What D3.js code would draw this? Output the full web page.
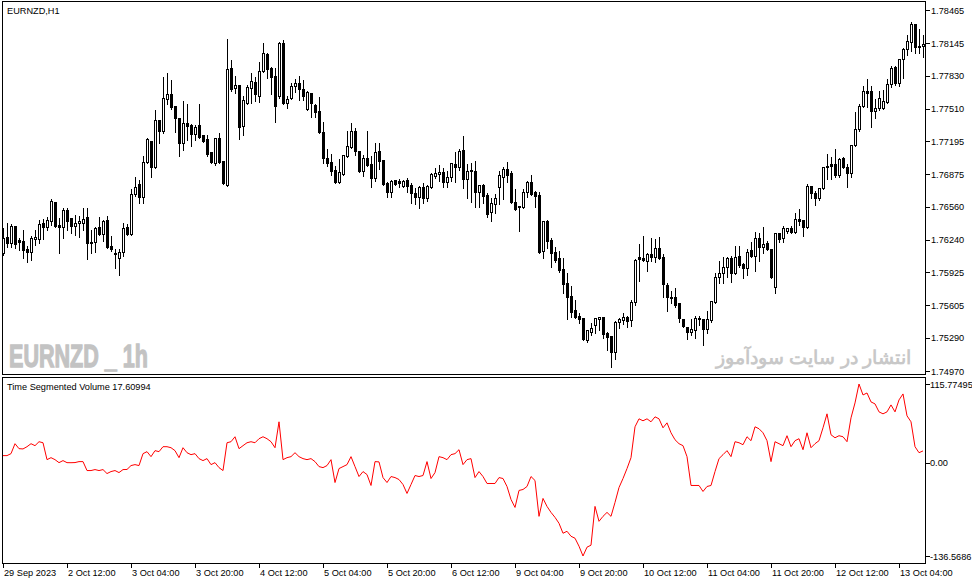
<!DOCTYPE html>
<html>
<head>
<meta charset="utf-8">
<script src="https://cdn.jsdelivr.net/npm/d3@7/dist/d3.min.js"></script>
<style>
html,body{margin:0;padding:0;background:#fff;}
svg{display:block;}
text{font-family:"Liberation Sans",Arial,sans-serif;}
</style>
</head>
<body>
<svg id="chart" width="972" height="584"></svg>
<script>
// ---- data (EURNZD H1, 29 Sep 2023 20:00 -> 13 Oct 2023) ----
const open = [1.76112,1.76267,1.76209,1.76374,1.76238,1.76228,1.76151,1.76122,1.76248,1.76248,
1.76403,1.76364,1.76422,1.76606,1.76384,1.76364,1.76529,1.76452,1.76374,1.76403,
1.76403,1.76461,1.76219,1.76219,1.76364,1.76296,1.76432,1.76180,1.76112,1.76064,
1.76122,1.76364,1.76296,1.76683,1.76780,1.76654,1.76994,1.77196,1.76945,1.77400,
1.77293,1.77603,1.77651,1.77535,1.77419,1.77177,1.77371,1.77352,1.77264,1.77352,
1.77255,1.77216,1.77090,1.76984,1.77226,1.77003,1.76771,1.77903,1.77710,1.77739,
1.77342,1.77564,1.77710,1.77768,1.77632,1.77874,1.78038,1.77903,1.77826,1.77632,
1.78145,1.77564,1.77613,1.77729,1.77758,1.77700,1.77506,1.77661,1.77545,1.77487,
1.77284,1.77032,1.76994,1.76916,1.76800,1.76877,1.77051,1.77138,1.77293,1.77099,
1.76906,1.77032,1.76974,1.76838,1.77099,1.77013,1.76790,1.76703,1.76819,1.76809,
1.76761,1.76819,1.76771,1.76693,1.76654,1.76751,1.76645,1.76751,1.76858,1.76877,
1.76897,1.76800,1.76848,1.76974,1.76945,1.77109,1.76829,1.76906,1.76906,1.76703,
1.76771,1.76674,1.76510,1.76586,1.76751,1.76848,1.76926,1.76887,1.76606,1.76557,
1.76557,1.76703,1.76800,1.76703,1.76674,1.76131,1.76422,1.76238,1.76122,1.76064,
1.75958,1.75822,1.75696,1.75561,1.75503,1.75484,1.75270,1.75348,1.75416,1.75474,
1.75493,1.75338,1.75309,1.75154,1.75445,1.75464,1.75493,1.75464,1.75638,1.76074,
1.76064,1.76035,1.76103,1.76074,1.76161,1.76074,1.75803,1.75686,1.75686,1.75628,
1.75474,1.75396,1.75348,1.75367,1.75484,1.75474,1.75377,1.75464,1.75638,1.75880,
1.75919,1.75977,1.76064,1.75919,1.76083,1.76006,1.75967,1.76141,1.76083,1.76258,
1.76170,1.76209,1.76151,1.75783,1.76306,1.76258,1.76326,1.76355,1.76316,1.76442,
1.76432,1.76364,1.76761,1.76693,1.76645,1.76741,1.76955,1.76974,1.76974,1.76868,
1.77032,1.76945,1.76887,1.77158,1.77313,1.77535,1.77680,1.77680,1.77487,1.77516,
1.77516,1.77574,1.77748,1.77913,1.77758,1.77990,1.78087,1.78155,1.78329,1.78116,
1.78116];
const high = [1.76364,1.76413,1.76403,1.76384,1.76267,1.76345,1.76190,1.76287,1.76345,1.76442,
1.76452,1.76471,1.76645,1.76615,1.76461,1.76557,1.76557,1.76461,1.76490,1.76481,
1.76557,1.76557,1.76345,1.76374,1.76471,1.76442,1.76481,1.76287,1.76161,1.76161,
1.76413,1.76403,1.76741,1.76858,1.76829,1.77061,1.77235,1.77206,1.77506,1.77410,
1.77826,1.77865,1.77797,1.77545,1.77429,1.77593,1.77564,1.77371,1.77361,1.77564,
1.77264,1.77264,1.77099,1.77235,1.77284,1.77013,1.78193,1.77990,1.77836,1.77748,
1.77642,1.77748,1.77865,1.77826,1.77971,1.78155,1.78058,1.77923,1.77913,1.78164,
1.78184,1.77642,1.77768,1.77807,1.77836,1.77797,1.77690,1.77671,1.77564,1.77632,
1.77390,1.77129,1.77080,1.76964,1.77032,1.77070,1.77303,1.77381,1.77332,1.77109,
1.77070,1.77303,1.77061,1.77187,1.77187,1.77022,1.76809,1.76829,1.76829,1.76838,
1.76829,1.76848,1.76800,1.76751,1.76771,1.76800,1.76780,1.76897,1.76945,1.76974,
1.76945,1.76916,1.76994,1.77099,1.77129,1.77255,1.76984,1.76994,1.77013,1.76780,
1.76790,1.76703,1.76654,1.76693,1.76916,1.76955,1.77003,1.76916,1.76741,1.76577,
1.76741,1.76819,1.76877,1.76722,1.76712,1.76432,1.76442,1.76267,1.76180,1.76141,
1.76074,1.75929,1.75803,1.75667,1.75542,1.75493,1.75377,1.75445,1.75493,1.75503,
1.75503,1.75357,1.75319,1.75464,1.75493,1.75542,1.75513,1.75667,1.76064,1.76209,
1.76287,1.76122,1.76267,1.76258,1.76277,1.76112,1.75832,1.75754,1.75783,1.75638,
1.75484,1.75406,1.75484,1.75513,1.75513,1.75484,1.75561,1.75657,1.75929,1.76045,
1.76083,1.76083,1.76093,1.76190,1.76190,1.76026,1.76161,1.76228,1.76326,1.76316,
1.76374,1.76238,1.76161,1.76316,1.76316,1.76384,1.76364,1.76384,1.76510,1.76548,
1.76442,1.76790,1.76771,1.76722,1.76751,1.76955,1.77080,1.77051,1.77129,1.77042,
1.77051,1.76984,1.77167,1.77487,1.77564,1.77739,1.77807,1.77739,1.77613,1.77690,
1.77700,1.77807,1.77932,1.77932,1.78000,1.78106,1.78232,1.78358,1.78339,1.78290,
1.78232];
const low = [1.76093,1.76170,1.76170,1.76161,1.76141,1.76064,1.76026,1.76045,1.76190,1.76209,
1.76248,1.76335,1.76384,1.76364,1.76112,1.76258,1.76335,1.76306,1.76287,1.76267,
1.76335,1.76054,1.76112,1.76122,1.76287,1.76228,1.76161,1.76131,1.75967,1.75900,
1.76083,1.76287,1.76287,1.76664,1.76596,1.76596,1.76984,1.76848,1.76935,1.77177,
1.77274,1.77554,1.77506,1.77284,1.77051,1.77109,1.77206,1.77148,1.77206,1.77226,
1.77187,1.77051,1.76984,1.76964,1.76984,1.76780,1.76761,1.77680,1.77661,1.77216,
1.77255,1.77554,1.77564,1.77583,1.77574,1.77865,1.77807,1.77651,1.77381,1.77613,
1.77554,1.77516,1.77603,1.77671,1.77593,1.77593,1.77497,1.77429,1.77429,1.77274,
1.76984,1.76955,1.76868,1.76790,1.76790,1.76868,1.77042,1.77129,1.77061,1.76897,
1.76858,1.76955,1.76751,1.76809,1.76926,1.76771,1.76654,1.76654,1.76771,1.76751,
1.76751,1.76703,1.76596,1.76586,1.76548,1.76596,1.76615,1.76741,1.76838,1.76809,
1.76751,1.76751,1.76809,1.76800,1.76916,1.76741,1.76645,1.76606,1.76557,1.76557,
1.76596,1.76461,1.76422,1.76500,1.76586,1.76635,1.76800,1.76596,1.76529,1.76326,
1.76548,1.76654,1.76674,1.76557,1.76112,1.76064,1.76161,1.75977,1.76026,1.75929,
1.75725,1.75474,1.75493,1.75484,1.75435,1.75270,1.75251,1.75319,1.75338,1.75367,
1.75290,1.75173,1.75009,1.75086,1.75387,1.75425,1.75396,1.75406,1.75609,1.75841,
1.76035,1.75938,1.76035,1.76026,1.76054,1.75686,1.75551,1.75628,1.75590,1.75445,
1.75396,1.75280,1.75319,1.75290,1.75416,1.75222,1.75338,1.75445,1.75628,1.75822,
1.75822,1.75880,1.75832,1.75909,1.75977,1.75871,1.75900,1.76074,1.75938,1.76035,
1.76112,1.76141,1.75871,1.75725,1.76219,1.76219,1.76306,1.76306,1.76306,1.76384,
1.76277,1.76355,1.76645,1.76577,1.76625,1.76732,1.76829,1.76829,1.76848,1.76848,
1.76935,1.76751,1.76848,1.77148,1.77293,1.77525,1.77525,1.77332,1.77419,1.77497,
1.77506,1.77564,1.77719,1.77739,1.77729,1.77807,1.78029,1.78068,1.78048,1.78048,
1.78010];
const close = [1.76258,1.76209,1.76374,1.76199,1.76219,1.76141,1.76122,1.76258,1.76267,1.76393,
1.76364,1.76432,1.76615,1.76374,1.76364,1.76529,1.76422,1.76374,1.76403,1.76422,
1.76442,1.76209,1.76209,1.76355,1.76296,1.76422,1.76170,1.76151,1.76103,1.76122,
1.76355,1.76296,1.76683,1.76751,1.76654,1.76994,1.77216,1.76945,1.77400,1.77293,
1.77613,1.77651,1.77525,1.77419,1.77177,1.77371,1.77342,1.77264,1.77332,1.77235,
1.77196,1.77070,1.76994,1.77226,1.76994,1.76790,1.77894,1.77700,1.77739,1.77332,
1.77593,1.77719,1.77777,1.77651,1.77874,1.78048,1.77894,1.77816,1.77535,1.78145,
1.77564,1.77603,1.77729,1.77758,1.77700,1.77632,1.77671,1.77564,1.77477,1.77284,
1.77032,1.76984,1.76906,1.76800,1.76897,1.77061,1.77148,1.77293,1.77099,1.76906,
1.77032,1.76964,1.76838,1.77090,1.77003,1.76780,1.76703,1.76809,1.76780,1.76790,
1.76809,1.76761,1.76693,1.76654,1.76751,1.76645,1.76761,1.76877,1.76887,1.76897,
1.76800,1.76848,1.76984,1.76945,1.77099,1.76829,1.76906,1.76916,1.76703,1.76771,
1.76664,1.76490,1.76596,1.76645,1.76868,1.76926,1.76868,1.76606,1.76538,1.76567,
1.76703,1.76800,1.76683,1.76664,1.76122,1.76422,1.76228,1.76112,1.76045,1.75948,
1.75812,1.75686,1.75542,1.75493,1.75474,1.75280,1.75367,1.75387,1.75484,1.75493,
1.75328,1.75299,1.75154,1.75445,1.75474,1.75493,1.75454,1.75638,1.76045,1.76054,
1.76045,1.76103,1.76074,1.76161,1.76064,1.75812,1.75686,1.75677,1.75609,1.75484,
1.75406,1.75348,1.75377,1.75484,1.75474,1.75377,1.75474,1.75647,1.75880,1.75919,
1.75977,1.76064,1.75919,1.76074,1.75996,1.75967,1.76122,1.76083,1.76258,1.76170,
1.76199,1.76151,1.75880,1.76306,1.76248,1.76355,1.76355,1.76316,1.76442,1.76422,
1.76364,1.76761,1.76693,1.76645,1.76741,1.76945,1.76945,1.76955,1.76868,1.77022,
1.76945,1.76887,1.77158,1.77313,1.77535,1.77680,1.77661,1.77487,1.77516,1.77613,
1.77583,1.77748,1.77903,1.77758,1.77990,1.78087,1.78164,1.78329,1.78106,1.78106,
1.78135];
const tsv = [10.7,10.7,13.6,28.2,20.9,20.5,23.8,28.2,25.3,31.1,
29.6,4.8,7.7,4.8,0.4,3.4,0.4,0.3,0.5,1.9,
1.9,-11.2,-11.2,-9.8,-11.2,-9.8,-15.6,-12.7,-11.2,-14.2,
-9.8,-9.6,-3.9,-2.5,-3.9,13.6,16.5,9.2,18.0,16.5,
23.8,23.8,22.3,18.0,7.7,22.3,15.0,12.1,13.6,6.3,
3.4,6.3,-2.5,0.4,-6.9,-11.2,29.6,31.1,38.4,20.9,
25.3,29.6,31.1,29.6,35.5,38.4,35.5,31.1,22.3,60.3,
4.8,7.7,9.2,15.0,9.2,6.3,4.8,6.3,1.9,-5.4,
-6.9,-3.9,4.8,-28.8,-8.3,-5.4,-2.5,9.2,-5.4,-20.0,
-12.7,-17.1,-33.1,1.9,1.5,-21.5,-28.8,-20.0,-21.5,-24.4,
-31.7,-44.8,-31.7,-18.5,-20.0,-18.5,1.9,-22.9,-14.2,9.2,
7.7,4.8,12.1,13.6,19.4,-2.5,4.8,6.3,-21.5,-12.7,
-20.0,-30.2,-30.2,-30.2,-21.5,-22.9,-34.6,-53.6,-65.3,-40.4,
-39.0,-34.6,-20.0,-25.8,-78.4,-52.1,-63.8,-72.6,-79.9,-88.6,
-103.2,-100.3,-107.6,-110.5,-122.2,-136.5686,-123.6,-120.7,-63.8,-85.7,
-78.4,-72.6,-78.4,-58.0,-36.1,-22.9,-8.3,7.7,53.0,64.7,
61.8,64.7,60.3,67.6,64.7,51.5,58.8,44.2,34.0,28.2,
25.3,9.2,-33.1,-33.1,-33.1,-41.9,-34.6,-33.1,-12.7,6.3,
12.1,18.0,9.2,31.1,29.6,26.7,38.4,32.6,53.0,50.1,
44.2,32.6,1.9,31.1,28.2,25.3,39.9,23.8,32.6,35.5,
19.4,44.2,22.3,28.2,32.6,51.5,72.0,41.3,36.9,39.9,
38.4,31.1,66.1,88.0,115.77495,99.7,102.6,89.5,86.6,74.9,
72.0,74.9,85.1,74.9,92.4,101.2,69.1,60.3,23.8,15.0,
17.60994];

const priceTicks = [1.78465,1.78145,1.77830,1.77510,1.77195,1.76875,1.76560,1.76240,1.75925,1.75605,1.75290,1.74970];
const tsvTicks = [115.77495, 0, -136.5686];
const tsvTickLabels = ["115.77495", "0.00", "-136.5686"];
const timeTickIndex = [0,16,32,48,64,80,96,112,128,144,160,176,192,208,224];
const timeTickLabels = ["29 Sep 2023","2 Oct 12:00","3 Oct 04:00","3 Oct 20:00","4 Oct 12:00","5 Oct 04:00","5 Oct 20:00","6 Oct 12:00","9 Oct 04:00","9 Oct 20:00","10 Oct 12:00","11 Oct 04:00","11 Oct 20:00","12 Oct 12:00","13 Oct 04:00"];
const symbolTitle = "EURNZD,H1";
const indicatorName = "Time Segmented Volume";
const lastTsvLabel = "17.60994";

// ---- layout ----
const svg = d3.select("#chart");
const L = 2.5, R = 925.5, mainTop = 1.5, mainBot = 374.5, indTop = 377.5, indBot = 563.5;
const n = Math.min(open.length, high.length, low.length, close.length);

const x = d3.scaleLinear().domain([0, 230]).range([3, 923]);
const y = d3.scaleLinear().domain([1.74970, 1.78465]).range([371, 10]);
const yi = d3.scaleLinear().domain([-136.5686, 115.77495]).range([556, 384]);

// panels
svg.append("rect").attr("x", L).attr("y", mainTop).attr("width", R - L).attr("height", mainBot - mainTop)
  .attr("fill", "#fff").attr("stroke", "#000").attr("stroke-width", 1);
svg.append("rect").attr("x", L).attr("y", indTop).attr("width", R - L).attr("height", indBot - indTop)
  .attr("fill", "#fff").attr("stroke", "#000").attr("stroke-width", 1);

// watermarks
svg.append("text").attr("x", 9).attr("y", 367)
  .attr("font-family", "'DejaVu Sans Condensed','DejaVu Sans',sans-serif")
  .attr("font-weight", "bold").attr("font-size", 32).attr("fill", "#c3c3c3")
  .attr("stroke", "#c3c3c3").attr("stroke-width", 1.3)
  .attr("textLength", 139).attr("lengthAdjust", "spacingAndGlyphs")
  .text("EURNZD _ 1h");
svg.append("text").attr("x", 911).attr("y", 364).attr("text-anchor", "end")
  .attr("font-family", "'DejaVu Sans',sans-serif").attr("font-weight", "bold")
  .attr("font-size", 19).attr("fill", "#c8c8c8")
  .text("انتشار در سایت سودآموز");

// clip for main
svg.append("clipPath").attr("id", "clipMain").append("rect")
  .attr("x", L).attr("y", mainTop).attr("width", R - L).attr("height", mainBot - mainTop);

const idx = d3.range(n);
const gC = svg.append("g").attr("clip-path", "url(#clipMain)").attr("shape-rendering", "crispEdges");
// wicks
gC.selectAll("line.wick").data(idx).join("line").attr("class", "wick")
  .attr("x1", i => Math.round(x(i)) + 0.5).attr("x2", i => Math.round(x(i)) + 0.5)
  .attr("y1", i => Math.round(y(high[i])) + 0.5).attr("y2", i => Math.round(y(low[i])) + 0.5)
  .attr("stroke", "#000").attr("stroke-width", 1);
// bodies
gC.selectAll("rect.body").data(idx).join("rect").attr("class", "body")
  .attr("x", i => Math.round(x(i)) - 0.5)
  .attr("width", 2)
  .attr("y", i => Math.round(y(Math.max(open[i], close[i]))) + 0.5)
  .attr("height", i => Math.max(0, Math.round(y(Math.min(open[i], close[i]))) - Math.round(y(Math.max(open[i], close[i])))))
  .attr("fill", i => close[i] >= open[i] ? "#fff" : "#000")
  .attr("stroke", "#000").attr("stroke-width", 1);

// indicator line
const line = d3.line().x((d, i) => x(i)).y(d => yi(d));
svg.append("path").datum(tsv).attr("d", line).attr("fill", "none")
  .attr("stroke", "#ff0000").attr("stroke-width", 1);

// price axis ticks
const fs = 9.2;
const gA = svg.append("g").attr("shape-rendering", "crispEdges");
gA.selectAll("line.pt").data(priceTicks).join("line")
  .attr("x1", R).attr("x2", R + 4).attr("y1", d => Math.round(y(d)) + 0.5).attr("y2", d => Math.round(y(d)) + 0.5)
  .attr("stroke", "#000");
svg.selectAll("text.pl").data(priceTicks).join("text").attr("class", "pl")
  .attr("x", 931).attr("y", d => y(d) + 3.5).attr("font-size", fs).attr("fill", "#000")
  .text(d => d.toFixed(5));

// indicator axis
gA.selectAll("line.it").data(tsvTicks).join("line")
  .attr("x1", R).attr("x2", R + 4).attr("y1", d => Math.round(yi(d)) + 0.5).attr("y2", d => Math.round(yi(d)) + 0.5)
  .attr("stroke", "#000");
svg.selectAll("text.il").data(tsvTicks).join("text").attr("class", "il")
  .attr("x", 930).attr("y", d => yi(d) + 3.5).attr("font-size", fs).attr("fill", "#000")
  .text((d, i) => tsvTickLabels[i]);

// time axis
gA.selectAll("line.tt").data(timeTickIndex).join("line")
  .attr("x1", d => Math.round(x(d)) + 0.5).attr("x2", d => Math.round(x(d)) + 0.5)
  .attr("y1", indBot).attr("y2", indBot + 4).attr("stroke", "#000");
svg.selectAll("text.tl").data(timeTickIndex).join("text").attr("class", "tl")
  .attr("x", d => x(d) + 1).attr("y", 576).attr("font-size", fs).attr("fill", "#000")
  .text((d, i) => timeTickLabels[i]);

// titles
svg.append("text").attr("x", 7).attr("y", 14).attr("font-size", fs).attr("fill", "#000").text(symbolTitle);
svg.append("text").attr("x", 7).attr("y", 390).attr("font-size", fs).attr("fill", "#000")
  .text(indicatorName + " " + lastTsvLabel);
</script>
</body>
</html>
